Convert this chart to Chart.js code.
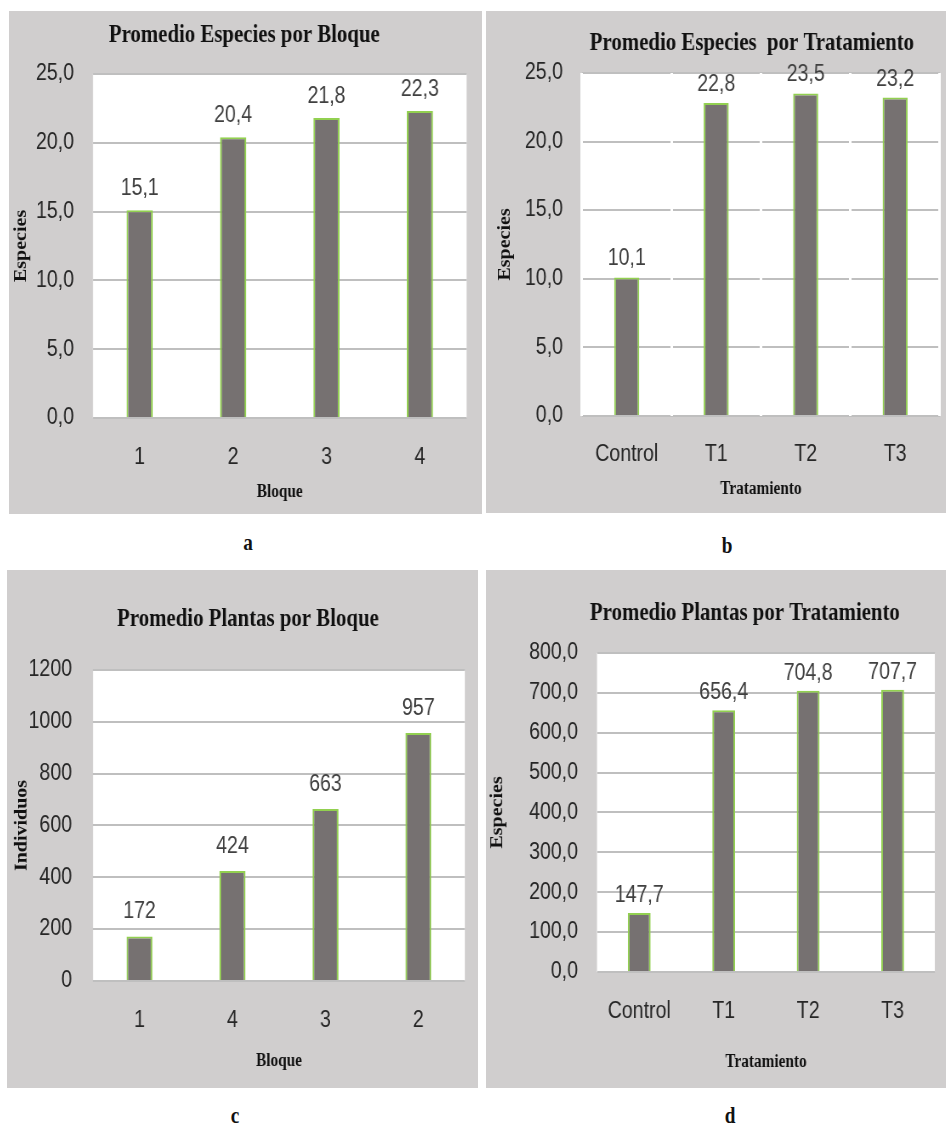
<!DOCTYPE html>
<html>
<head>
<meta charset="utf-8">
<title>Promedio de especies y plantas</title>
<script src="https://cdn.jsdelivr.net/npm/chart.js@4.4.1/dist/chart.umd.min.js"></script>
<style>
  html, body { margin: 0; padding: 0; background: #ffffff; width: 946px; height: 1126px; overflow: hidden; }
  .panel { position: absolute; background: #d0cece; overflow: hidden; }
  .panel canvas { display: block; transform-origin: 0 0; }
  .tag { position: absolute; font: bold 24px "Liberation Serif", "DejaVu Serif", serif; color: #111; transform: translate(-50%, -50%) scaleX(0.8); }
</style>
</head>
<body>
<div class="panel" id="pa" style="left:9px;top:11px;width:473px;height:503px"><canvas id="ca"></canvas></div>
<div class="panel" id="pb" style="left:486px;top:11px;width:460px;height:502px"><canvas id="cb"></canvas></div>
<div class="panel" id="pc" style="left:7px;top:570px;width:471px;height:518px"><canvas id="cc"></canvas></div>
<div class="panel" id="pd" style="left:486px;top:570px;width:460px;height:518px"><canvas id="cd"></canvas></div>
<div class="tag" style="left:248px;top:542px">a</div>
<div class="tag" style="left:727px;top:545px">b</div>
<div class="tag" style="left:235px;top:1115px">c</div>
<div class="tag" style="left:730px;top:1115px">d</div>
<script>
// Categories and series values
const bloques = ['1', '2', '3', '4'];
const especiesPorBloque = [15.1, 20.4, 21.8, 22.3];

const tratamientos = ['Control', 'T1', 'T2', 'T3'];
const especiesPorTratamiento = [10.1, 22.8, 23.5, 23.2];

const bloquesOrdenados = ['1', '4', '3', '2'];
const plantasPorBloque = [172, 424, 663, 957];

const plantasPorTratamiento = [147.7, 656.4, 704.8, 707.7];

const SANS = '"Liberation Sans", Arial, sans-serif';
const SERIF = '"Liberation Serif", "DejaVu Serif", serif';
const BAR_FILL = '#767171';
const BAR_EDGE = '#92d050';
const GRID = '#bfbfbf';
// the charts are drawn wide and narrowed horizontally on the page
const SQ = 0.85;
const h = (px) => px / SQ;

// decimal comma formatting
function fmt(v, decimals) {
  return Number(v).toFixed(decimals).replace('.', ',');
}

// white plot area behind the grid
const plotBackground = {
  id: 'plotBackground',
  beforeDraw(chart) {
    const a = chart.chartArea;
    const ctx = chart.ctx;
    ctx.save();
    ctx.fillStyle = '#ffffff';
    ctx.fillRect(a.left, a.top, a.right - a.left, a.bottom - a.top);
    ctx.restore();
  }
};

// horizontal nudge of the chart title
const titleNudge = {
  id: 'titleNudge',
  afterLayout(chart, args, opts) {
    const t = chart.titleBlock;
    if (t && opts.shift) { t.left += opts.shift; t.right += opts.shift; }
  }
};

// value written above each bar
const barValues = {
  id: 'barValues',
  afterDatasetsDraw(chart, args, opts) {
    const ctx = chart.ctx;
    const meta = chart.getDatasetMeta(0);
    const data = chart.data.datasets[0].data;
    ctx.save();
    ctx.font = '23px ' + SANS;
    ctx.fillStyle = '#404040';
    ctx.textAlign = 'center';
    ctx.textBaseline = 'alphabetic';
    meta.data.forEach((el, i) => {
      ctx.fillText(fmt(data[i], opts.decimals), el.x, el.y - opts.gap);
    });
    ctx.restore();
  }
};

function makeChart(id, p) {
  const canvas = document.getElementById(id);
  const box = canvas.parentElement;
  canvas.width = Math.round(h(box.clientWidth));
  canvas.height = box.clientHeight;
  canvas.style.transform = 'scaleX(' + SQ + ')';
  return new Chart(canvas, {
    type: 'bar',
    data: {
      labels: p.labels,
      datasets: [{
        data: p.values,
        backgroundColor: BAR_FILL,
        borderColor: BAR_EDGE,
        borderWidth: 2,
        borderSkipped: 'bottom',
        barPercentage: p.barPct,
        categoryPercentage: 1.0
      }]
    },
    options: {
      responsive: false,
      animation: false,
      events: [],
      layout: { padding: { left: 0, right: h(p.rightPad), top: 0, bottom: 0 } },
      plugins: {
        legend: { display: false },
        tooltip: { enabled: false },
        title: {
          display: true,
          text: p.title,
          color: '#111111',
          font: { family: SERIF, size: 24.5, weight: 'bold', lineHeight: 1.2 },
          padding: { top: p.titleTop, bottom: p.titleBottom }
        },
        titleNudge: { shift: h(p.titleShift) },
        barValues: { decimals: p.decimals, gap: p.labelGap }
      },
      scales: {
        x: {
          afterFit(scale) { scale.height = p.xHeight; },
          grid: p.gaps
            ? { display: true, drawOnChartArea: true, drawTicks: false, color: '#ffffff', lineWidth: 3, offset: true, z: -1 }
            : { display: false, drawTicks: false },
          border: { display: false },
          ticks: { color: '#262626', font: { family: SANS, size: 23 }, padding: p.xTickPad },
          title: {
            display: true,
            text: p.xTitle,
            color: '#111111',
            font: { family: SERIF, size: 18, weight: 'bold', lineHeight: 1.2 },
            padding: { top: 0, bottom: p.xTitlePad }
          }
        },
        y: {
          min: 0,
          max: p.yMax,
          afterFit(scale) { scale.width = h(p.yWidth); },
          grid: { color: GRID, lineWidth: 2, drawTicks: false, z: -2 },
          border: { display: false },
          ticks: {
            stepSize: p.yStep,
            color: '#262626',
            font: { family: SANS, size: 23 },
            padding: h(p.tickPad),
            callback: (v) => fmt(v, p.decimals)
          },
          title: {
            display: true,
            text: p.yTitle,
            color: '#111111',
            font: { family: SERIF, size: 20, weight: 'bold', lineHeight: 1.2 },
            padding: { top: h(p.yTitleX) - 12, bottom: 0 }
          }
        }
      }
    },
    plugins: [plotBackground, titleNudge, barValues]
  });
}

makeChart('ca', {
  labels: bloques, values: especiesPorBloque, yMax: 25, yStep: 5, decimals: 1,
  title: 'Promedio Especies por Bloque', xTitle: 'Bloque', yTitle: 'Especies',
  yWidth: 84, xHeight: 96, rightPad: 15, tickPad: 19, xTickPad: 26,
  titleTop: 9.5, titleBottom: 24, titleShift: 6.5,
  yTitleX: 13, xTitlePad: 11, labelGap: 15, barPct: 0.28, gaps: false
});

makeChart('cb', {
  labels: tratamientos, values: especiesPorTratamiento, yMax: 25, yStep: 5, decimals: 1,
  title: 'Promedio Especies  por Tratamiento', xTitle: 'Tratamiento', yTitle: 'Especies',
  yWidth: 96, xHeight: 97, rightPad: 6, tickPad: 19, xTickPad: 25,
  titleTop: 17.5, titleBottom: 15, titleShift: 39,
  yTitleX: 19, xTitlePad: 13, labelGap: 12, barPct: 0.28, gaps: true
});

makeChart('cc', {
  labels: bloquesOrdenados, values: plantasPorBloque, yMax: 1200, yStep: 200, decimals: 0,
  title: 'Promedio Plantas por Bloque', xTitle: 'Bloque', yTitle: 'Individuos',
  yWidth: 86, xHeight: 107, rightPad: 13, tickPad: 21, xTickPad: 26,
  titleTop: 34.5, titleBottom: 36, titleShift: 12,
  yTitleX: 15, xTitlePad: 16, labelGap: 18, barPct: 0.28, gaps: false
});

makeChart('cd', {
  labels: tratamientos, values: plantasPorTratamiento, yMax: 800, yStep: 100, decimals: 1,
  title: 'Promedio Plantas por Tratamiento', xTitle: 'Tratamiento', yTitle: 'Especies',
  yWidth: 111, xHeight: 116, rightPad: 11, tickPad: 19, xTickPad: 26,
  titleTop: 28.5, titleBottom: 25, titleShift: 34.5,
  yTitleX: 12, xTitlePad: 15, labelGap: 11, barPct: 0.27, gaps: false
});
</script>
</body>
</html>
